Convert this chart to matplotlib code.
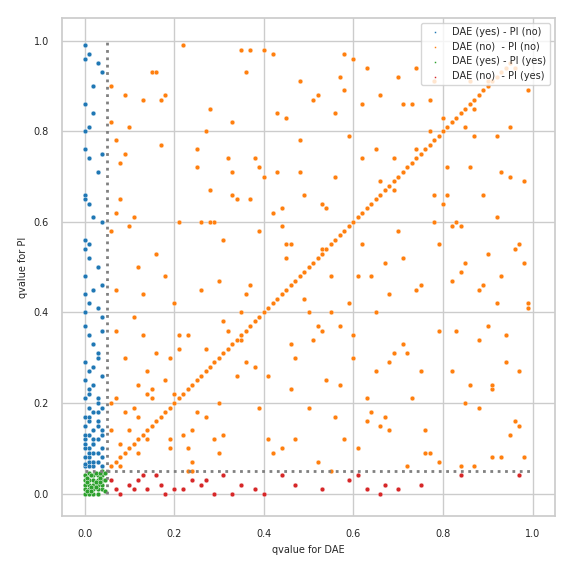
import matplotlib.pyplot as plt
import seaborn as sns

sns.set_theme(style="whitegrid")
plt.rcParams['font.family'] = ['DejaVu Sans']

# DAE (yes) - PI (no): blue
blue_x = [0.00, 0.00, 0.01, 0.00, 0.02, 0.03, 0.04, 0.01, 0.00, 0.02, 0.04, 0.00, 0.01, 0.03,
          0.00, 0.01, 0.00, 0.02, 0.04, 0.00, 0.01, 0.03, 0.00, 0.00, 0.02, 0.04, 0.01, 0.00,
          0.03, 0.00, 0.01, 0.02, 0.04, 0.00, 0.01, 0.03, 0.00, 0.02, 0.01, 0.04, 0.00, 0.03,
          0.01, 0.02, 0.00, 0.04, 0.01, 0.03, 0.00, 0.02, 0.01, 0.00, 0.04, 0.03, 0.02, 0.01,
          0.00, 0.02, 0.04, 0.01, 0.03, 0.00, 0.02, 0.01, 0.04, 0.00, 0.03, 0.02, 0.01, 0.00,
          0.04, 0.02, 0.03, 0.01, 0.00, 0.02, 0.04, 0.01, 0.03, 0.00, 0.01, 0.03, 0.02, 0.04,
          0.00, 0.01, 0.02, 0.03]
blue_y = [0.99, 0.96, 0.97, 0.86, 0.90, 0.95, 0.93, 0.81, 0.80, 0.84, 0.75, 0.76, 0.74, 0.71,
          0.66, 0.64, 0.65, 0.61, 0.60, 0.56, 0.55, 0.50, 0.54, 0.48, 0.45, 0.46, 0.42, 0.40,
          0.41, 0.37, 0.35, 0.33, 0.36, 0.29, 0.27, 0.30, 0.25, 0.24, 0.22, 0.26, 0.21, 0.20,
          0.19, 0.18, 0.17, 0.19, 0.16, 0.15, 0.15, 0.14, 0.13, 0.12, 0.13, 0.12, 0.11, 0.10,
          0.10, 0.09, 0.10, 0.08, 0.09, 0.08, 0.07, 0.07, 0.08, 0.06, 0.07, 0.06, 0.06, 0.065,
          0.06, 0.11, 0.21, 0.23, 0.13, 0.28, 0.39, 0.52, 0.31, 0.44, 0.17, 0.16, 0.12, 0.14,
          0.11, 0.09, 0.07, 0.18]

# DAE (no) - PI (no): orange, scattered points
orange_x = [0.06, 0.07, 0.08, 0.09, 0.10, 0.12, 0.13, 0.15, 0.17, 0.19, 0.21, 0.22, 0.24, 0.26,
            0.28, 0.30, 0.32, 0.34, 0.36, 0.38, 0.40, 0.42, 0.44, 0.46, 0.48, 0.50, 0.52, 0.54,
            0.56, 0.58, 0.60, 0.62, 0.64, 0.66, 0.68, 0.70, 0.72, 0.74, 0.76, 0.78, 0.80, 0.82,
            0.84, 0.86, 0.88, 0.90, 0.92, 0.94, 0.96, 0.98, 0.99, 0.07, 0.09, 0.11, 0.14, 0.16,
            0.18, 0.20, 0.23, 0.25, 0.27, 0.29, 0.31, 0.33, 0.35, 0.37, 0.39, 0.41, 0.43, 0.45,
            0.47, 0.49, 0.51, 0.53, 0.55, 0.57, 0.59, 0.61, 0.63, 0.65, 0.67, 0.69, 0.71, 0.73,
            0.75, 0.77, 0.79, 0.81, 0.83, 0.85, 0.87, 0.89, 0.91, 0.93, 0.95, 0.97, 0.06, 0.08,
            0.10, 0.12, 0.15, 0.18, 0.21, 0.24, 0.27, 0.30, 0.33, 0.36, 0.39, 0.42, 0.45, 0.48,
            0.51, 0.54, 0.57, 0.60, 0.63, 0.66, 0.69, 0.72, 0.75, 0.78, 0.81, 0.84, 0.87, 0.90,
            0.93, 0.96, 0.99, 0.07, 0.11, 0.14, 0.19, 0.23, 0.28, 0.34, 0.38, 0.44, 0.49, 0.55,
            0.58, 0.64, 0.68, 0.74, 0.79, 0.83, 0.88, 0.92, 0.97, 0.06, 0.09, 0.13, 0.17, 0.22,
            0.26, 0.31, 0.35, 0.40, 0.46, 0.52, 0.56, 0.62, 0.67, 0.71, 0.77, 0.82, 0.86, 0.91,
            0.95, 0.08, 0.12, 0.16, 0.20, 0.25, 0.29, 0.33, 0.37, 0.43, 0.47, 0.53, 0.59, 0.65,
            0.70, 0.76, 0.80, 0.85, 0.89, 0.94, 0.98,
            0.06, 0.07, 0.08, 0.06, 0.07, 0.09, 0.10, 0.11, 0.13, 0.14, 0.16, 0.19, 0.21, 0.23,
            0.25, 0.28, 0.30, 0.32, 0.35, 0.37, 0.41, 0.42, 0.45, 0.46, 0.48, 0.50, 0.53, 0.55,
            0.56, 0.58, 0.60, 0.62, 0.63, 0.65, 0.68, 0.71, 0.73, 0.74, 0.77, 0.79, 0.82, 0.85,
            0.86, 0.88, 0.90, 0.91, 0.93, 0.95, 0.97, 0.99, 0.12, 0.18, 0.24, 0.31, 0.36, 0.44,
            0.52, 0.61, 0.69, 0.78, 0.87, 0.96, 0.15, 0.27, 0.39, 0.57, 0.66, 0.84, 0.92, 0.98]
orange_y = [0.90, 0.45, 0.73, 0.30, 0.81, 0.50, 0.87, 0.21, 0.77, 0.30, 0.60, 0.99, 0.14, 0.45,
            0.85, 0.47, 0.74, 0.65, 0.93, 0.28, 0.70, 0.97, 0.59, 0.33, 0.91, 0.40, 0.88, 0.25,
            0.84, 0.12, 0.96, 0.55, 0.18, 0.69, 0.44, 0.92, 0.31, 0.76, 0.14, 0.60, 0.83, 0.27,
            0.49, 0.72, 0.19, 0.91, 0.61, 0.35, 0.54, 0.08, 0.89, 0.62, 0.18, 0.39, 0.12, 0.53,
            0.88, 0.42, 0.10, 0.76, 0.32, 0.60, 0.13, 0.82, 0.34, 0.98, 0.19, 0.26, 0.71, 0.55,
            0.12, 0.66, 0.87, 0.36, 0.48, 0.24, 0.79, 0.10, 0.94, 0.40, 0.17, 0.67, 0.52, 0.86,
            0.27, 0.09, 0.55, 0.72, 0.36, 0.20, 0.79, 0.66, 0.23, 0.48, 0.81, 0.15, 0.20, 0.11,
            0.59, 0.24, 0.93, 0.48, 0.32, 0.05, 0.80, 0.20, 0.66, 0.44, 0.72, 0.09, 0.52, 0.78,
            0.34, 0.63, 0.92, 0.30, 0.16, 0.88, 0.74, 0.06, 0.46, 0.91, 0.66, 0.06, 0.85, 0.37,
            0.08, 0.94, 0.42, 0.78, 0.61, 0.22, 0.10, 0.35, 0.67, 0.26, 0.74, 0.10, 0.43, 0.05,
            0.89, 0.48, 0.29, 0.94, 0.07, 0.60, 0.45, 0.79, 0.27, 0.14, 0.75, 0.35, 0.87, 0.13,
            0.60, 0.38, 0.40, 0.98, 0.55, 0.37, 0.70, 0.74, 0.51, 0.33, 0.87, 0.59, 0.24, 0.08,
            0.70, 0.65, 0.17, 0.31, 0.22, 0.18, 0.12, 0.71, 0.65, 0.84, 0.30, 0.54, 0.42, 0.27,
            0.58, 0.09, 0.64, 0.81, 0.46, 0.29, 0.69,
            0.82, 0.36, 0.06, 0.58, 0.21, 0.88, 0.14, 0.19, 0.44, 0.27, 0.93, 0.12, 0.35, 0.05,
            0.72, 0.60, 0.09, 0.36, 0.98, 0.46, 0.12, 0.62, 0.83, 0.23, 0.71, 0.19, 0.64, 0.40,
            0.17, 0.97, 0.35, 0.86, 0.21, 0.76, 0.14, 0.86, 0.21, 0.45, 0.80, 0.36, 0.47, 0.51,
            0.91, 0.34, 0.53, 0.24, 0.71, 0.13, 0.55, 0.41, 0.09, 0.25, 0.07, 0.56, 0.29, 0.63,
            0.07, 0.48, 0.31, 0.66, 0.06, 0.16, 0.23, 0.17, 0.58, 0.37, 0.15, 0.59, 0.42, 0.51]

# DAE (no) - PI (no): orange points lying on the diagonal
diag_vals = [0.06, 0.07, 0.08, 0.09, 0.10, 0.11, 0.12, 0.13, 0.14, 0.15, 0.16, 0.17, 0.18, 0.19,
             0.20, 0.21, 0.22, 0.23, 0.24, 0.25, 0.26, 0.27, 0.28, 0.29, 0.30, 0.31, 0.32, 0.33,
             0.34, 0.35, 0.36, 0.37, 0.38, 0.39, 0.40, 0.41, 0.42, 0.43, 0.44, 0.45, 0.46, 0.47,
             0.48, 0.49, 0.50, 0.51, 0.52, 0.53, 0.54, 0.55, 0.56, 0.57, 0.58, 0.59, 0.60, 0.61,
             0.62, 0.63, 0.64, 0.65, 0.66, 0.67, 0.68, 0.69, 0.70, 0.71, 0.72, 0.73, 0.74, 0.75,
             0.76, 0.77, 0.78, 0.79, 0.80, 0.81, 0.82, 0.83, 0.84, 0.85, 0.86, 0.87, 0.88, 0.89,
             0.90, 0.91, 0.92, 0.93, 0.94, 0.95]

# DAE (yes) - PI (yes): green
green_x = [0.00, 0.01, 0.02, 0.03, 0.04, 0.00, 0.01, 0.02, 0.03, 0.04, 0.00, 0.01, 0.02, 0.03,
           0.04, 0.00, 0.01, 0.02, 0.03, 0.04, 0.00, 0.01, 0.02, 0.03, 0.04, 0.005, 0.015, 0.025,
           0.035, 0.045, 0.005, 0.015, 0.025, 0.035, 0.045, 0.005, 0.015, 0.025, 0.035, 0.045]
green_y = [0.00, 0.01, 0.00, 0.02, 0.01, 0.02, 0.03, 0.04, 0.00, 0.03, 0.04, 0.00, 0.02, 0.04,
           0.05, 0.01, 0.02, 0.03, 0.01, 0.04, 0.03, 0.045, 0.01, 0.03, 0.02, 0.005, 0.015, 0.025,
           0.035, 0.045, 0.035, 0.005, 0.045, 0.025, 0.005, 0.025, 0.04, 0.015, 0.045, 0.03]

# DAE (no) - PI (yes): red
red_x = [0.06, 0.08, 0.10, 0.12, 0.14, 0.16, 0.18, 0.20, 0.24, 0.26, 0.29, 0.31, 0.33, 0.38,
         0.40, 0.47, 0.53, 0.61, 0.63, 0.66, 0.70, 0.75, 0.84, 0.97, 0.07, 0.11, 0.13, 0.17,
         0.22, 0.27, 0.35, 0.44, 0.59, 0.67]
red_y = [0.03, 0.00, 0.02, 0.03, 0.01, 0.04, 0.00, 0.01, 0.03, 0.02, 0.00, 0.04, 0.00, 0.01,
         0.00, 0.02, 0.01, 0.04, 0.01, 0.00, 0.01, 0.02, 0.04, 0.04, 0.01, 0.01, 0.04, 0.02,
         0.01, 0.03, 0.02, 0.04, 0.03, 0.02]

fig, ax = plt.subplots(figsize=(5.73, 5.73), dpi=100)
kw = dict(s=12, edgecolor='white', linewidth=0.3)
ax.scatter(blue_x, blue_y, color='#1f77b4', label='DAE (yes) - PI (no)', **kw)
ax.scatter(orange_x + diag_vals, orange_y + diag_vals, color='#ff7f0e', label='DAE (no)  - PI (no)', **kw)
ax.scatter(green_x, green_y, color='#2ca02c', label='DAE (yes) - PI (yes)', **kw)
ax.scatter(red_x, red_y, color='#d62728', label='DAE (no)  - PI (yes)', **kw)

ax.vlines(0.05, 0, 1, color='gray', linestyle=':', linewidth=2)
ax.hlines(0.05, 0, 1, color='gray', linestyle=':', linewidth=2)

ax.set_xlabel('qvalue for DAE', fontsize=7)
ax.set_ylabel('qvalue for PI', fontsize=7)
ax.tick_params(labelsize=7)
ax.legend(fontsize=7, markerscale=0.4, loc='upper right')
plt.tight_layout()
plt.savefig('out.png')
